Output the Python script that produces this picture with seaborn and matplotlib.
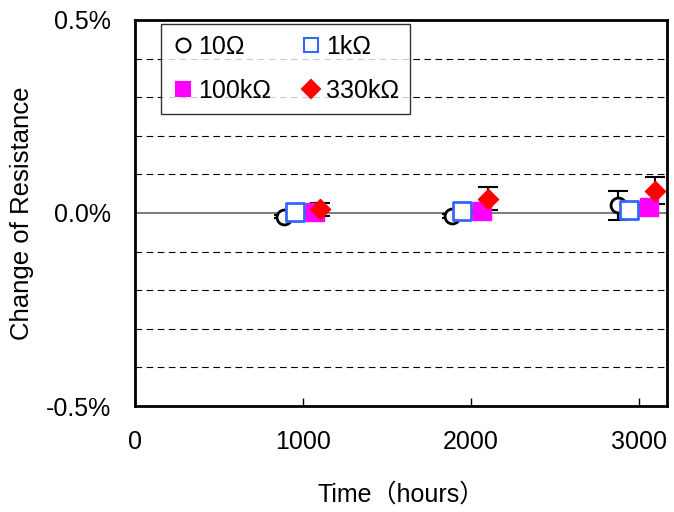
import matplotlib
matplotlib.use("Agg")
import matplotlib.pyplot as plt
import seaborn as sns
import pandas as pd
from matplotlib.ticker import FuncFormatter

# values (change in %)
series = ["10Ω", "1kΩ", "100kΩ", "330kΩ"]
hours_10 = [890, 1890, 2875]
hours_1k = [955, 1950, 2945]
hours_100k = [1070, 2070, 3060]
hours_330k = [1100, 2100, 3095]
change_10 = [-0.010, -0.008, 0.020]
change_1k = [0.003, 0.004, 0.008]
change_100k = [0.003, 0.004, 0.016]
change_330k = [0.010, 0.037, 0.058]
err_10 = [0.004, 0.006, 0.038]
err_1k = [0.003, 0.003, 0.004]
err_100k = [0.003, 0.003, 0.004]
err_330k = [0.017, 0.030, 0.036]

x_ticks = [0, 1000, 2000, 3000]
y_ticks = [-0.5, 0.0, 0.5]

rows = []
for name, xs, ys, es in zip(series,
                            [hours_10, hours_1k, hours_100k, hours_330k],
                            [change_10, change_1k, change_100k, change_330k],
                            [err_10, err_1k, err_100k, err_330k]):
    for x, y, e in zip(xs, ys, es):
        rows.append({"Series": name, "Hours": x, "Change": y, "Err": e})
df = pd.DataFrame(rows)

sns.set_theme(style="white", rc={"text.color": "black", "axes.labelcolor": "black",
                                 "xtick.color": "black", "ytick.color": "black"})
plt.rcParams["font.family"] = ["Liberation Sans", "Noto Sans CJK JP"]

fig = plt.figure(figsize=(6.74, 5.12), dpi=100)
ax = fig.add_axes([0.200, 0.207, 0.790, 0.754])

# grid: dashed every 0.1 %, solid at zero
for g in [-0.4, -0.3, -0.2, -0.1, 0.1, 0.2, 0.3, 0.4]:
    ax.axhline(g, color="black", lw=0.8, ls=(0, (6, 4)), zorder=0)
ax.axhline(0, color="#808080", lw=1.5, zorder=0)

styles = {
    "10Ω": dict(marker="o", fc="white", ec="black", s=115, lw=2.0),
    "1kΩ": dict(marker="s", fc="white", ec="#3366FF", s=160, lw=2.0),
    "100kΩ": dict(marker="s", fc="#FF00FF", ec="#FF00FF", s=160, lw=1.0),
    "330kΩ": dict(marker="D", fc="#FF0000", ec="#FF0000", s=105, lw=1.0),
}

for name in series:
    sub = df[df["Series"] == name]
    st = styles[name]
    ax.errorbar(sub["Hours"], sub["Change"], yerr=sub["Err"], fmt="none",
                ecolor="black", elinewidth=1.5, capsize=7, capthick=1.5, zorder=2)
    sns.scatterplot(data=sub, x="Hours", y="Change", ax=ax, marker=st["marker"],
                    s=st["s"], facecolor=st["fc"], edgecolor=st["ec"],
                    linewidth=st["lw"], zorder=3, label=name, legend=False)

ax.set_xlim(0, 3170)
ax.set_ylim(-0.5, 0.5)
ax.set_xticks(x_ticks)
ax.set_yticks(y_ticks)
ax.yaxis.set_major_formatter(FuncFormatter(lambda v, p: f"{v:.1f}%"))
ax.tick_params(axis="x", direction="in", length=6, width=1, pad=17,
               labelsize=18, bottom=True)
ax.tick_params(axis="y", length=0, pad=17, labelsize=18)
for sp in ax.spines.values():
    sp.set_color("black")
    sp.set_linewidth(2)

ax.set_xlabel("Time（hours）", fontsize=18, labelpad=21)
ax.set_ylabel("Change of Resistance", fontsize=18.5)
ax.yaxis.set_label_coords(-0.190, 0.5)

handles = []
for name in series:
    st = styles[name]
    h = plt.Line2D([], [], ls="none", marker=st["marker"],
                   markerfacecolor=st["fc"], markeredgecolor=st["ec"],
                   markeredgewidth=1.5, markersize=10 if st["marker"] != "D" else 9)
    handles.append(h)
order = [0, 2, 1, 3]
leg = ax.legend([handles[i] for i in order], [series[i] for i in order], ncol=2,
                loc="upper left", bbox_to_anchor=(0.05, 0.99), fontsize=18,
                frameon=True, fancybox=False, edgecolor="black",
                handletextpad=0.2, columnspacing=1.2, handlelength=0.8,
                borderpad=0.45, labelspacing=0.8, borderaxespad=0)
leg.get_frame().set_linewidth(1.0)

fig.savefig("out.png", dpi=100)
